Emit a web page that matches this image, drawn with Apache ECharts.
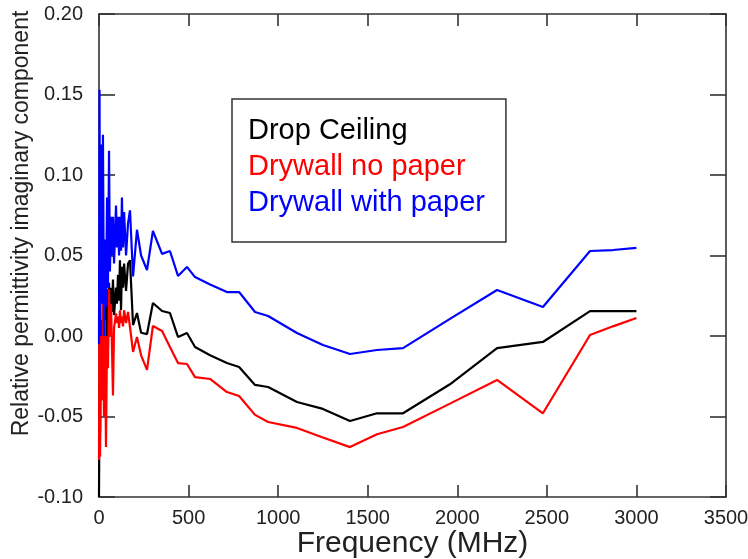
<!DOCTYPE html>
<html>
<head>
<meta charset="utf-8">
<script src="https://cdn.jsdelivr.net/npm/echarts@6/dist/echarts.min.js"></script>
<style>html,body{margin:0;padding:0;background:#fff;}#chart{width:748px;height:559px;}</style>
</head>
<body>
<div id="chart"></div>
<script>
// Frequencies (MHz), shared by all three series
var frequencies = [0,3,6,11,17,22,28,33,39,45,50,56,61,67,73,78,84,95,100,106,112,117,123,128,134,140,151,162,173,190,212,235,268,301,
  352,396,441,491,536,620,714,782,871,944,1105,1250,1401,1552,1697,1959,2222,2478,2741,2869,3000];

var dropCeiling = [-0.10,-0.03,-0.06,0.01,-0.02,0.02,-0.01,0.025,0.0,0.029,0.0,0.033,0.012,0.03,0.015,0.035,0.013,0.03,0.02,0.038,0.022,0.047,0.016,0.043,0.03,0.045,0.028,0.045,0.047,0.0068,0.0143,0.002,0.0012,0.0205,
  0.0155,0.0143,-0.0006,0.0019,-0.0068,-0.012,-0.0168,-0.0193,-0.0304,-0.0317,-0.041,-0.0453,-0.0528,-0.048,-0.048,-0.030,-0.0075,-0.0037,0.0155,0.0155,0.0155];

var drywallNoPaper = [-0.077,0.045,-0.075,0.0,-0.04,0.03,-0.05,0.01,-0.069,0.0,-0.02,0.029,0.0,0.02,-0.01,-0.037,0.005,0.014,0.008,0.012,0.005,0.016,0.008,0.012,0.006,0.016,0.008,0.015,0.0056,-0.0099,-0.0006,-0.012,-0.021,0.0062,
  0.0031,-0.0068,-0.0168,-0.0174,-0.0255,-0.0267,-0.0348,-0.0373,-0.049,-0.0534,-0.0571,-0.063,-0.069,-0.061,-0.0565,-0.042,-0.0273,-0.048,0.0006,0.006,0.0112];

var drywallWithPaper = [-0.005,0.153,0.0,0.119,0.02,0.125,0.0,0.06,0.018,0.086,0.03,0.115,0.04,0.074,0.05,0.074,0.045,0.081,0.055,0.074,0.05,0.074,0.053,0.086,0.055,0.077,0.05,0.07,0.078,0.037,0.066,0.05,0.041,0.0652,
  0.051,0.0528,0.0373,0.0429,0.0366,0.032,0.0273,0.0273,0.0149,0.0124,0.0019,-0.0056,-0.0112,-0.0087,-0.0075,0.0106,0.0286,0.018,0.0528,0.0534,0.0547];

var seriesNames = ['Drop Ceiling', 'Drywall no paper', 'Drywall with paper'];
var xTickLabels = ['0','500','1000','1500','2000','2500','3000','3500'];
var yTickLabels = ['-0.10','-0.05','0.00','0.05','0.10','0.15','0.20'];

var X_MIN = 0, X_MAX = 3500, X_STEP = 500;
var Y_MIN = -0.10, Y_MAX = 0.20, Y_STEP = 0.05;
var colors = ['#000000', '#ff0000', '#0000ff'];
var sans = '"Liberation Sans", Arial, sans-serif';

function pairs(vals) { return frequencies.map(function (f, i) { return [f, vals[i]]; }); }

var chart = echarts.init(document.getElementById('chart'), null, { renderer: 'canvas' });
var axisLineStyle = { color: '#333', width: 1.6 };

var option = {
  animation: false,
  backgroundColor: '#fff',
  grid: { left: 99, right: 22, top: 14, bottom: 62, containLabel: false, outerBoundsMode: 'none' },
  legend: {
    orient: 'vertical',
    left: 232, top: 99,
    padding: [17, 21, 25, 11],
    itemGap: 7,
    itemWidth: 0, itemHeight: 0,
    icon: 'rect',
    borderColor: '#333', borderWidth: 1.5,
    selectedMode: false,
    textStyle: { fontFamily: sans, fontSize: 29 },
    data: seriesNames.map(function (n, i) { return { name: n, textStyle: { color: colors[i], fontFamily: sans, fontSize: 29 } }; })
  },
  xAxis: [{
    type: 'value', min: X_MIN, max: X_MAX, interval: X_STEP, position: 'bottom',
    name: 'Frequency (MHz)', nameLocation: 'middle', nameGap: 32, nameMoveOverlap: false,
    nameTextStyle: { fontFamily: sans, fontSize: 30, color: '#222' },
    axisLine: { show: true, onZero: false, lineStyle: axisLineStyle },
    axisTick: { show: true, inside: true, length: 12, lineStyle: axisLineStyle },
    axisLabel: { margin: 11, fontFamily: sans, fontSize: 20, color: '#222',
      formatter: function (v) { return xTickLabels[Math.round((v - X_MIN) / X_STEP)]; } },
    splitLine: { show: false }
  }, {
    type: 'value', min: X_MIN, max: X_MAX, interval: X_STEP, position: 'top',
    axisLine: { show: true, onZero: false, lineStyle: axisLineStyle },
    axisTick: { show: true, inside: true, length: 12, lineStyle: axisLineStyle },
    axisLabel: { show: false }, splitLine: { show: false }
  }],
  yAxis: [{
    type: 'value', min: Y_MIN, max: Y_MAX, interval: Y_STEP, position: 'left',
    name: 'Relative permittivity imaginary component', nameLocation: 'middle', nameGap: 66, nameRotate: 90, nameMoveOverlap: false,
    nameTextStyle: { fontFamily: sans, fontSize: 23, color: '#222', padding: [0, 0, 0, 64] },
    axisLine: { show: true, onZero: false, lineStyle: axisLineStyle },
    axisTick: { show: true, inside: true, length: 16, lineStyle: axisLineStyle },
    axisLabel: { margin: 16, fontFamily: sans, fontSize: 20, color: '#222',
      formatter: function (v) { return yTickLabels[Math.round((v - Y_MIN) / Y_STEP)]; } },
    splitLine: { show: false }
  }, {
    type: 'value', min: Y_MIN, max: Y_MAX, interval: Y_STEP, position: 'right',
    axisLine: { show: true, onZero: false, lineStyle: axisLineStyle },
    axisTick: { show: true, inside: true, length: 16, lineStyle: axisLineStyle },
    axisLabel: { show: false }, splitLine: { show: false }
  }],
  series: [dropCeiling, drywallNoPaper, drywallWithPaper].map(function (vals, i) {
    return {
      name: seriesNames[i], type: 'line', xAxisIndex: 0, yAxisIndex: 0,
      data: pairs(vals), showSymbol: false, symbol: 'none',
      lineStyle: { color: colors[i], width: 2.2 }, itemStyle: { color: colors[i] },
      emphasis: { disabled: true }
    };
  })
};
chart.setOption(option);
</script>
</body>
</html>
